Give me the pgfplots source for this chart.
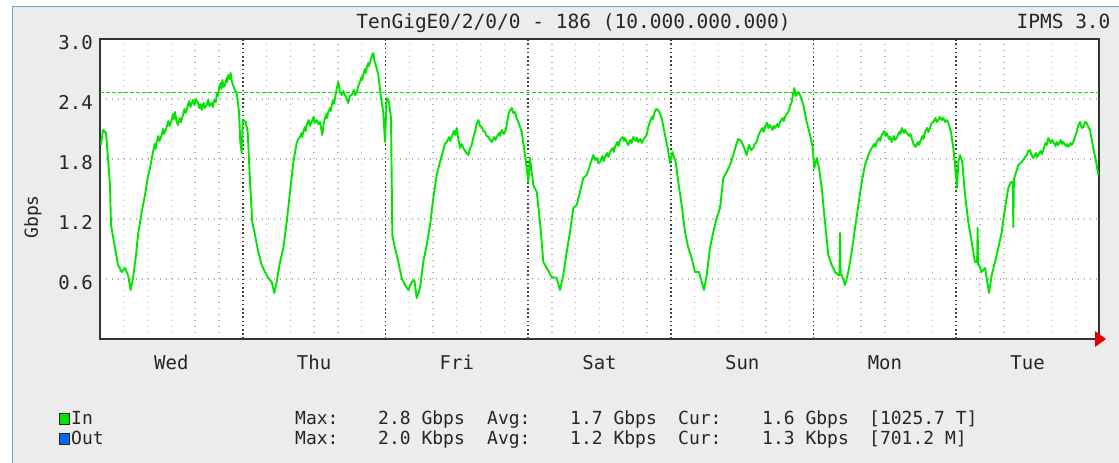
\documentclass[border=0pt]{standalone}
\usepackage{fontspec}
\setmainfont{DejaVu Sans Mono}
\usepackage{pgfplots}
\usepackage{pgfplotstable}
\pgfplotsset{compat=1.18}
\definecolor{ingreen}{RGB}{0,228,0}
\definecolor{frameblue}{RGB}{110,160,215}
\definecolor{bggray}{RGB}{236,236,236}
\definecolor{outblue}{RGB}{0,102,255}

\pgfplotstableread{
h v
0.17 1.94
0.50 2.09
1.01 2.06
1.35 1.81
1.68 1.54
1.85 1.14
2.52 0.91
3.03 0.74
3.65 0.67
4.20 0.71
4.71 0.64
5.16 0.49
5.55 0.61
6.00 0.81
6.39 1.04
7.01 1.27
7.57 1.44
8.02 1.61
8.41 1.71
8.91 1.87
9.2 1.95
9.35 1.90
9.54 1.97
9.8 2.03
10.0 1.98
10.38 2.04
10.6 2.10
10.8 2.05
11.22 2.12
11.5 2.18
11.7 2.13
12.06 2.19
12.3 2.25
12.45 2.20
12.61 2.27
12.85 2.18
13.12 2.14
13.4 2.21
13.6 2.17
13.96 2.24
14.2 2.30
14.4 2.26
14.80 2.34
15.0 2.38
15.2 2.32
15.64 2.39
15.9 2.34
16.1 2.40
16.48 2.36
16.7 2.31
16.9 2.35
17.10 2.29
17.4 2.36
17.6 2.31
17.94 2.34
18.2 2.39
18.4 2.33
18.78 2.36
19.0 2.32
19.2 2.39
19.46 2.37
19.7 2.46
19.85 2.43
20.01 2.51
20.3 2.56
20.4 2.50
20.57 2.59
20.8 2.52
21.02 2.54
21.3 2.61
21.4 2.57
21.58 2.64
21.8 2.60
21.98 2.66
22.15 2.58
22.37 2.54
22.6 2.50
22.99 2.46
23.38 2.27
23.59 1.97
23.83 1.86
24.00 2.19
24.50 2.17
24.84 2.07
25.23 1.57
25.61 1.17
26.07 1.04
26.62 0.87
27.19 0.74
27.75 0.67
28.30 0.61
28.88 0.57
29.31 0.46
29.71 0.57
30.27 0.77
30.83 0.91
31.40 1.17
31.95 1.47
32.51 1.77
33.08 1.96
33.35 2.00
33.63 2.02
33.9 2.06
34.0 2.02
34.19 2.07
34.45 2.12
34.6 2.08
34.76 2.14
35.1 2.19
35.3 2.13
35.59 2.17
35.9 2.22
36.1 2.16
36.44 2.19
36.7 2.15
37.00 2.17
37.38 2.04
37.6 2.15
37.84 2.21
38.1 2.25
38.2 2.21
38.39 2.27
38.7 2.31
38.8 2.28
38.97 2.34
39.2 2.39
39.35 2.35
39.52 2.41
39.8 2.50
40.08 2.57
40.35 2.47
40.65 2.44
40.9 2.48
41.20 2.44
41.5 2.40
41.76 2.36
42.0 2.43
42.33 2.44
42.7 2.49
42.9 2.44
43.17 2.47
43.45 2.53
43.72 2.57
44.0 2.62
44.1 2.59
44.28 2.64
44.55 2.70
44.7 2.66
44.85 2.71
45.1 2.76
45.25 2.73
45.41 2.77
45.7 2.83
45.96 2.86
46.15 2.78
46.37 2.74
46.6 2.69
46.80 2.64
47.26 2.41
47.64 2.27
47.93 1.97
48.21 2.41
48.60 2.37
48.94 2.21
49.16 1.04
49.61 0.91
50.17 0.77
50.74 0.61
51.29 0.54
51.85 0.49
52.42 0.57
52.86 0.59
53.26 0.41
53.81 0.51
54.37 0.77
54.94 0.94
55.50 1.14
56.05 1.41
56.62 1.64
57.18 1.77
57.73 1.89
58.0 1.95
58.31 1.97
58.7 2.02
58.9 1.98
59.15 2.02
59.5 2.08
59.7 2.04
59.99 2.11
60.2 2.02
60.54 1.91
60.8 1.95
61.10 1.91
61.5 1.87
61.94 1.84
62.2 1.90
62.51 1.94
62.8 2.02
63.06 2.07
63.3 2.14
63.62 2.19
63.9 2.13
64.19 2.12
64.45 2.08
64.75 2.07
65.0 2.03
65.30 2.02
65.6 1.99
65.87 1.97
66.3 2.02
66.5 1.99
66.71 2.02
67.1 2.06
67.3 2.03
67.56 2.09
67.9 2.05
68.23 2.09
68.67 2.24
68.9 2.28
69.24 2.31
69.5 2.26
69.79 2.27
70.05 2.21
70.35 2.17
70.92 2.07
71.47 1.84
71.76 1.71
72.03 1.57
72.31 1.81
72.87 1.54
73.44 1.47
74.00 1.17
74.55 0.77
75.12 0.71
75.96 0.62
76.80 0.61
77.36 0.49
77.91 0.64
78.48 0.87
79.04 1.07
79.60 1.31
80.17 1.34
80.72 1.47
81.28 1.61
81.85 1.64
82.40 1.74
82.96 1.84
83.25 1.79
83.53 1.81
83.8 1.76
84.09 1.77
84.5 1.83
84.7 1.78
84.93 1.82
85.3 1.86
85.5 1.82
85.77 1.87
86.2 1.91
86.4 1.87
86.61 1.92
87.0 1.97
87.2 1.93
87.45 1.99
87.9 2.02
88.1 1.98
88.29 2.01
88.84 1.94
89.2 1.99
89.4 1.96
89.68 2.02
90.1 1.98
90.3 2.01
90.53 1.97
90.9 2.00
91.1 1.96
91.37 1.99
91.92 2.04
92.2 2.12
92.49 2.17
92.8 2.22
93.0 2.20
93.21 2.26
93.5 2.30
93.89 2.29
94.2 2.25
94.46 2.21
95.01 2.04
95.47 1.91
95.86 1.76
96.25 1.87
96.81 1.77
97.25 1.57
97.82 1.34
98.37 1.07
98.94 0.91
99.51 0.81
100.06 0.67
100.74 0.67
101.19 0.57
101.57 0.49
102.03 0.64
102.58 0.91
103.14 1.07
103.71 1.21
104.27 1.31
104.82 1.61
105.39 1.67
105.95 1.74
106.50 1.84
107.08 1.96
107.35 2.00
107.63 1.99
108.17 1.94
108.5 1.88
108.75 1.84
109.14 1.94
109.5 1.89
109.87 1.91
110.1 1.95
110.43 1.97
110.7 2.03
110.99 2.07
111.4 2.11
111.6 2.07
111.83 2.12
112.2 2.16
112.4 2.11
112.67 2.14
113.1 2.09
113.3 2.13
113.52 2.11
113.9 2.15
114.1 2.12
114.36 2.17
114.8 2.21
115.0 2.18
115.20 2.22
115.5 2.25
115.76 2.27
116.05 2.33
116.33 2.37
116.55 2.45
116.76 2.51
117.0 2.43
117.16 2.44
117.45 2.47
117.72 2.44
118.0 2.39
118.28 2.34
118.85 2.17
119.40 2.04
119.79 1.94
120.13 1.71
120.53 1.81
120.92 1.71
121.37 1.51
121.92 1.17
122.48 0.84
123.05 0.74
123.60 0.67
124.16 0.64
124.36 0.64
124.45 1.06
124.55 0.64
124.73 0.64
125.29 0.54
125.84 0.67
126.41 0.87
126.97 1.11
127.53 1.34
128.10 1.57
128.65 1.74
129.21 1.84
129.78 1.91
130.2 1.95
130.4 1.92
130.62 1.97
131.0 2.01
131.2 1.98
131.46 2.04
131.9 2.08
132.1 2.03
132.30 2.06
132.7 2.00
132.9 2.02
133.14 1.97
133.5 2.03
133.7 1.99
133.98 2.01
134.4 2.07
134.6 2.05
134.82 2.11
135.2 2.06
135.4 2.09
135.66 2.06
136.1 2.03
136.3 2.05
136.50 2.01
136.8 1.95
137.17 1.92
137.5 1.97
137.7 1.94
137.90 1.97
138.3 2.03
138.5 2.00
138.74 2.07
139.1 2.11
139.3 2.07
139.58 2.11
139.85 2.16
140.14 2.17
140.5 2.21
140.7 2.17
140.98 2.19
141.25 2.22
141.55 2.19
141.8 2.21
142.10 2.17
142.4 2.19
142.66 2.16
143.11 2.07
143.50 1.91
143.79 1.74
144.12 1.51
144.34 1.77
144.63 1.84
145.01 1.77
145.47 1.44
146.02 1.17
146.59 0.97
147.15 0.77
147.50 0.77
147.59 1.11
147.68 0.74
147.82 0.74
148.27 0.67
148.83 0.71
149.11 0.61
149.50 0.46
149.96 0.64
150.51 0.77
151.07 0.91
151.64 1.07
152.19 1.31
152.75 1.51
153.20 1.57
153.50 1.57
153.59 1.12
153.68 1.57
153.76 1.61
154.43 1.74
155.00 1.77
155.84 1.84
156.1 1.88
156.39 1.89
156.65 1.84
156.95 1.81
157.4 1.86
157.6 1.82
157.79 1.84
158.2 1.88
158.4 1.85
158.63 1.89
159.0 1.96
159.2 1.94
159.47 2.01
159.9 1.96
160.1 1.99
160.31 1.97
160.7 1.93
160.9 1.97
161.15 1.94
161.6 1.99
161.8 1.95
162.00 1.97
162.4 1.93
162.6 1.95
162.84 1.92
163.2 1.96
163.4 1.94
163.68 1.97
164.0 2.03
164.25 2.07
164.5 2.13
164.80 2.17
165.1 2.11
165.36 2.12
165.65 2.17
165.93 2.16
166.2 2.12
166.49 2.09
167.04 1.91
167.61 1.74
167.88 1.64
}\intable

\begin{document}
\begin{tikzpicture}[x=1pt,y=1pt]
\useasboundingbox (0,0) rectangle (1119,463);
\fill[white] (0,0) rectangle (1119,463);
\fill[bggray] (12.5,0) rectangle (1119,456.5);
\draw[frameblue, line width=1.5pt] (12.5,0) -- (12.5,456.5) -- (1119,456.5);
\begin{axis}[
  at={(100pt,124pt)}, anchor=south west, scale only axis,
  width=999pt, height=300pt,
  xmin=0, xmax=168, ymin=0, ymax=3,
  axis background/.style={fill=white},
  axis line style={black!80, line width=1.6pt},
  xtick={12,36,60,84,108,132,156},
  xticklabels={Wed,Thu,Fri,Sat,Sun,Mon,Tue},
  minor xtick={4,8,12,16,20,28,32,36,40,44,52,56,60,64,68,76,80,84,88,92,100,104,108,112,116,124,128,132,136,140,148,152,156,160,164},
  ytick={0.6,1.2,1.8,2.4,3.0},
  yticklabels={0.6,1.2,1.8,2.4,3.0},
  major tick length=0pt, minor tick length=0pt,
  xminorgrids=true, ymajorgrids=true, xmajorgrids=false,
  minor grid style={black!30, line width=1.4pt, dash pattern=on 1.4pt off 4.6pt},
  major grid style={black!30, line width=1.4pt, dash pattern=on 1.4pt off 4.6pt},
  extra x ticks={24,48,72,96,120,144},
  extra x tick labels={},
  extra x tick style={grid=major, major grid style={black!75, line width=1.6pt, dash pattern=on 1.6pt off 2.6pt}},
  tick label style={font=\fontsize{19}{22}\selectfont, text=black!85},
  xticklabel style={inner sep=0pt, anchor=base, yshift=-31pt},
  yticklabel style={inner sep=0pt, anchor=base east, xshift=-7pt, yshift=-11pt},
  clip=true,
]
\addplot[ingreen, line width=1.5pt, dash pattern=on 3.5pt off 2.5pt, forget plot] coordinates {(0,2.467) (168,2.467)};
\addplot[ingreen, line width=1.9pt, line join=round] table[x=h, y=v] {\intable};
\end{axis}
% red arrow at end of time axis
\fill[red!90!black] (1095,132) -- (1106,124) -- (1095,116) -- cycle;
% titles
\node[anchor=base, font=\fontsize{19.5}{22}\selectfont, text=black!85] at (573.5,434) {TenGigE0/2/0/0 - 186 (10.000.000.000)};
\node[anchor=base east, font=\fontsize{19.5}{22}\selectfont, text=black!85] at (1114,434) {IPMS 3.0};
\node[rotate=90, font=\fontsize{18}{22}\selectfont, text=black!85] at (33,246) {Gbps};
% legend
\begin{scope}[font=\fontsize{18}{20}\selectfont, text=black!85]
\filldraw[fill=ingreen, draw=black!85, line width=1pt] (59,38.5) rectangle (69.5,49);
\filldraw[fill=outblue, draw=black!85, line width=1pt] (59,18.5) rectangle (69.5,29);
\node[anchor=base west, inner sep=0pt] at (71,38) {In};
\node[anchor=base west, inner sep=0pt] at (71,18) {Out};
\node[anchor=base west, inner sep=0pt] at (295,38) {Max:};
\node[anchor=base west, inner sep=0pt] at (295,18) {Max:};
\node[anchor=base west, inner sep=0pt] at (378,38) {2.8 Gbps};
\node[anchor=base west, inner sep=0pt] at (378,18) {2.0 Kbps};
\node[anchor=base west, inner sep=0pt] at (487,38) {Avg:};
\node[anchor=base west, inner sep=0pt] at (487,18) {Avg:};
\node[anchor=base west, inner sep=0pt] at (570,38) {1.7 Gbps};
\node[anchor=base west, inner sep=0pt] at (570,18) {1.2 Kbps};
\node[anchor=base west, inner sep=0pt] at (678,38) {Cur:};
\node[anchor=base west, inner sep=0pt] at (678,18) {Cur:};
\node[anchor=base west, inner sep=0pt] at (762,38) {1.6 Gbps};
\node[anchor=base west, inner sep=0pt] at (762,18) {1.3 Kbps};
\node[anchor=base west, inner sep=0pt] at (869,38) {[1025.7 T]};
\node[anchor=base west, inner sep=0pt] at (869,18) {[701.2 M]};
\end{scope}
\end{tikzpicture}
\end{document}
